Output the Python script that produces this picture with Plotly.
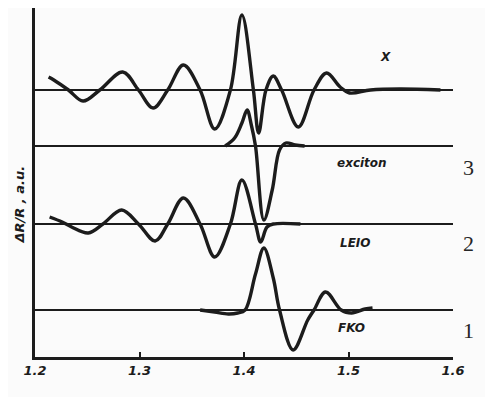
import plotly.graph_objects as go

# Photon energy (eV) and dR/R (a.u.) for each curve, relative to its own baseline
x_E = [1.213, 1.218, 1.232, 1.246, 1.262, 1.284, 1.299, 1.313, 1.327, 1.342, 1.358, 1.372,
       1.387, 1.398, 1.409, 1.414, 1.421, 1.428, 1.436, 1.452, 1.467, 1.479,
       1.492, 1.501, 1.521, 1.549, 1.588]
x_R = [1.3, 1.0, 0.0, -1.1, 0.0, 1.8, 0.0, -1.8, 0.0, 2.5, 0.0, -3.9,
       0.0, 7.5, 0.0, -4.3, 0.0, 1.4, 0.0, -3.7, 0.0, 1.7,
       0.3, -0.3, 0.0, 0.1, 0.0]

exc_E = [1.382, 1.391, 1.398, 1.403, 1.407, 1.411, 1.419, 1.427, 1.434, 1.440, 1.449, 1.458]
exc_R = [0.0, 0.8, 2.3, 3.6, 2.1, 0.0, -7.4, -4.4, -0.4, 0.3, 0.1, 0.0]

leio_E = [1.214, 1.226, 1.235, 1.251, 1.265, 1.283, 1.299, 1.315, 1.327, 1.342, 1.358, 1.372,
          1.387, 1.398, 1.411, 1.416, 1.422, 1.428, 1.454]
leio_R = [0.7, 0.2, -0.3, -0.9, 0.0, 1.4, 0.0, -1.7, 0.0, 2.6, 0.0, -3.3,
          0.0, 4.4, 0.0, -1.8, -0.3, 0.0, 0.0]

fko_E = [1.358, 1.372, 1.385, 1.394, 1.401, 1.411, 1.419, 1.428, 1.434, 1.447, 1.461, 1.467,
         1.478, 1.493, 1.503, 1.516, 1.523]
fko_R = [0.0, -0.2, -0.4, -0.3, 0.0, 3.6, 6.2, 3.2, 0.0, -4.0, -1.0, 0.0,
         1.8, 0.0, -0.3, 0.1, 0.2]

curve_names = ["X", "exciton", "LEIO", "FKO"]
baselines = [26.7, 21.1, 13.3, 4.7]
curve_numbers = ["", "3", "2", "1"]
label_E = [1.535, 1.513, 1.507, 1.503]
label_y = [30.0, 19.4, 11.4, 2.9]
number_y = [None, 19.0, 11.4, 2.7]

x_ticks = [1.2, 1.3, 1.4, 1.5, 1.6]
x_ticklabels = ["1.2", "1.3", "1.4", "1.5", "1.6"]

ink = "#1c1c1c"
fig = go.Figure()

# baselines
for b in baselines:
    fig.add_trace(go.Scatter(x=[1.2, 1.6], y=[b, b], mode="lines",
                             line=dict(color=ink, width=2), hoverinfo="skip",
                             showlegend=False))

for E, R, b in [(x_E, x_R, baselines[0]), (exc_E, exc_R, baselines[1]),
                (leio_E, leio_R, baselines[2]), (fko_E, fko_R, baselines[3])]:
    fig.add_trace(go.Scatter(x=E, y=[b + r for r in R], mode="lines",
                             line=dict(color=ink, width=3.4, shape="spline", smoothing=1.0),
                             showlegend=False))

lab_font = dict(family="DejaVu Sans", size=12, color=ink)
for name, e, y in zip(curve_names, label_E, label_y):
    fig.add_annotation(x=e, y=y, text="<b><i>%s</i></b>" % name, showarrow=False,
                       font=lab_font)
for n, y in zip(curve_numbers, number_y):
    if n:
        fig.add_annotation(xref="paper", x=1.055, y=y, text=n, showarrow=False,
                           font=dict(family="Liberation Serif", size=22, color="#262626"))

fig.add_annotation(x=1.434, y=-2.6, text="<b><i>Photon energy E, eV</i></b>",
                   showarrow=False, font=dict(family="DejaVu Sans", size=12, color=ink))
fig.add_annotation(xref="paper", x=-0.062, y=15.2, text="<b><i>ΔR/R , a.u.</i></b>",
                   textangle=-90, showarrow=False,
                   font=dict(family="DejaVu Sans", size=13, color=ink))

fig.update_xaxes(range=[1.2, 1.6], tickvals=x_ticks, ticktext=x_ticklabels,
                 ticks="inside", ticklen=5, tickwidth=2, tickcolor=ink,
                 showline=True, linecolor=ink, linewidth=2.5, showgrid=False,
                 zeroline=False,
                 tickfont=dict(family="DejaVu Sans", size=13, color=ink, weight="bold",
                               style="italic"))
fig.update_yaxes(range=[0, 34.9], showticklabels=False, ticks="",
                 showline=True, linecolor=ink, linewidth=2.5, showgrid=False,
                 zeroline=False)

fig.update_layout(width=485, height=389, margin=dict(l=27, r=40, t=0, b=40),
                  plot_bgcolor="#fbfbfb", paper_bgcolor="#fbfbfb")

fig.write_html("out.html", config={"displayModeBar": False})
